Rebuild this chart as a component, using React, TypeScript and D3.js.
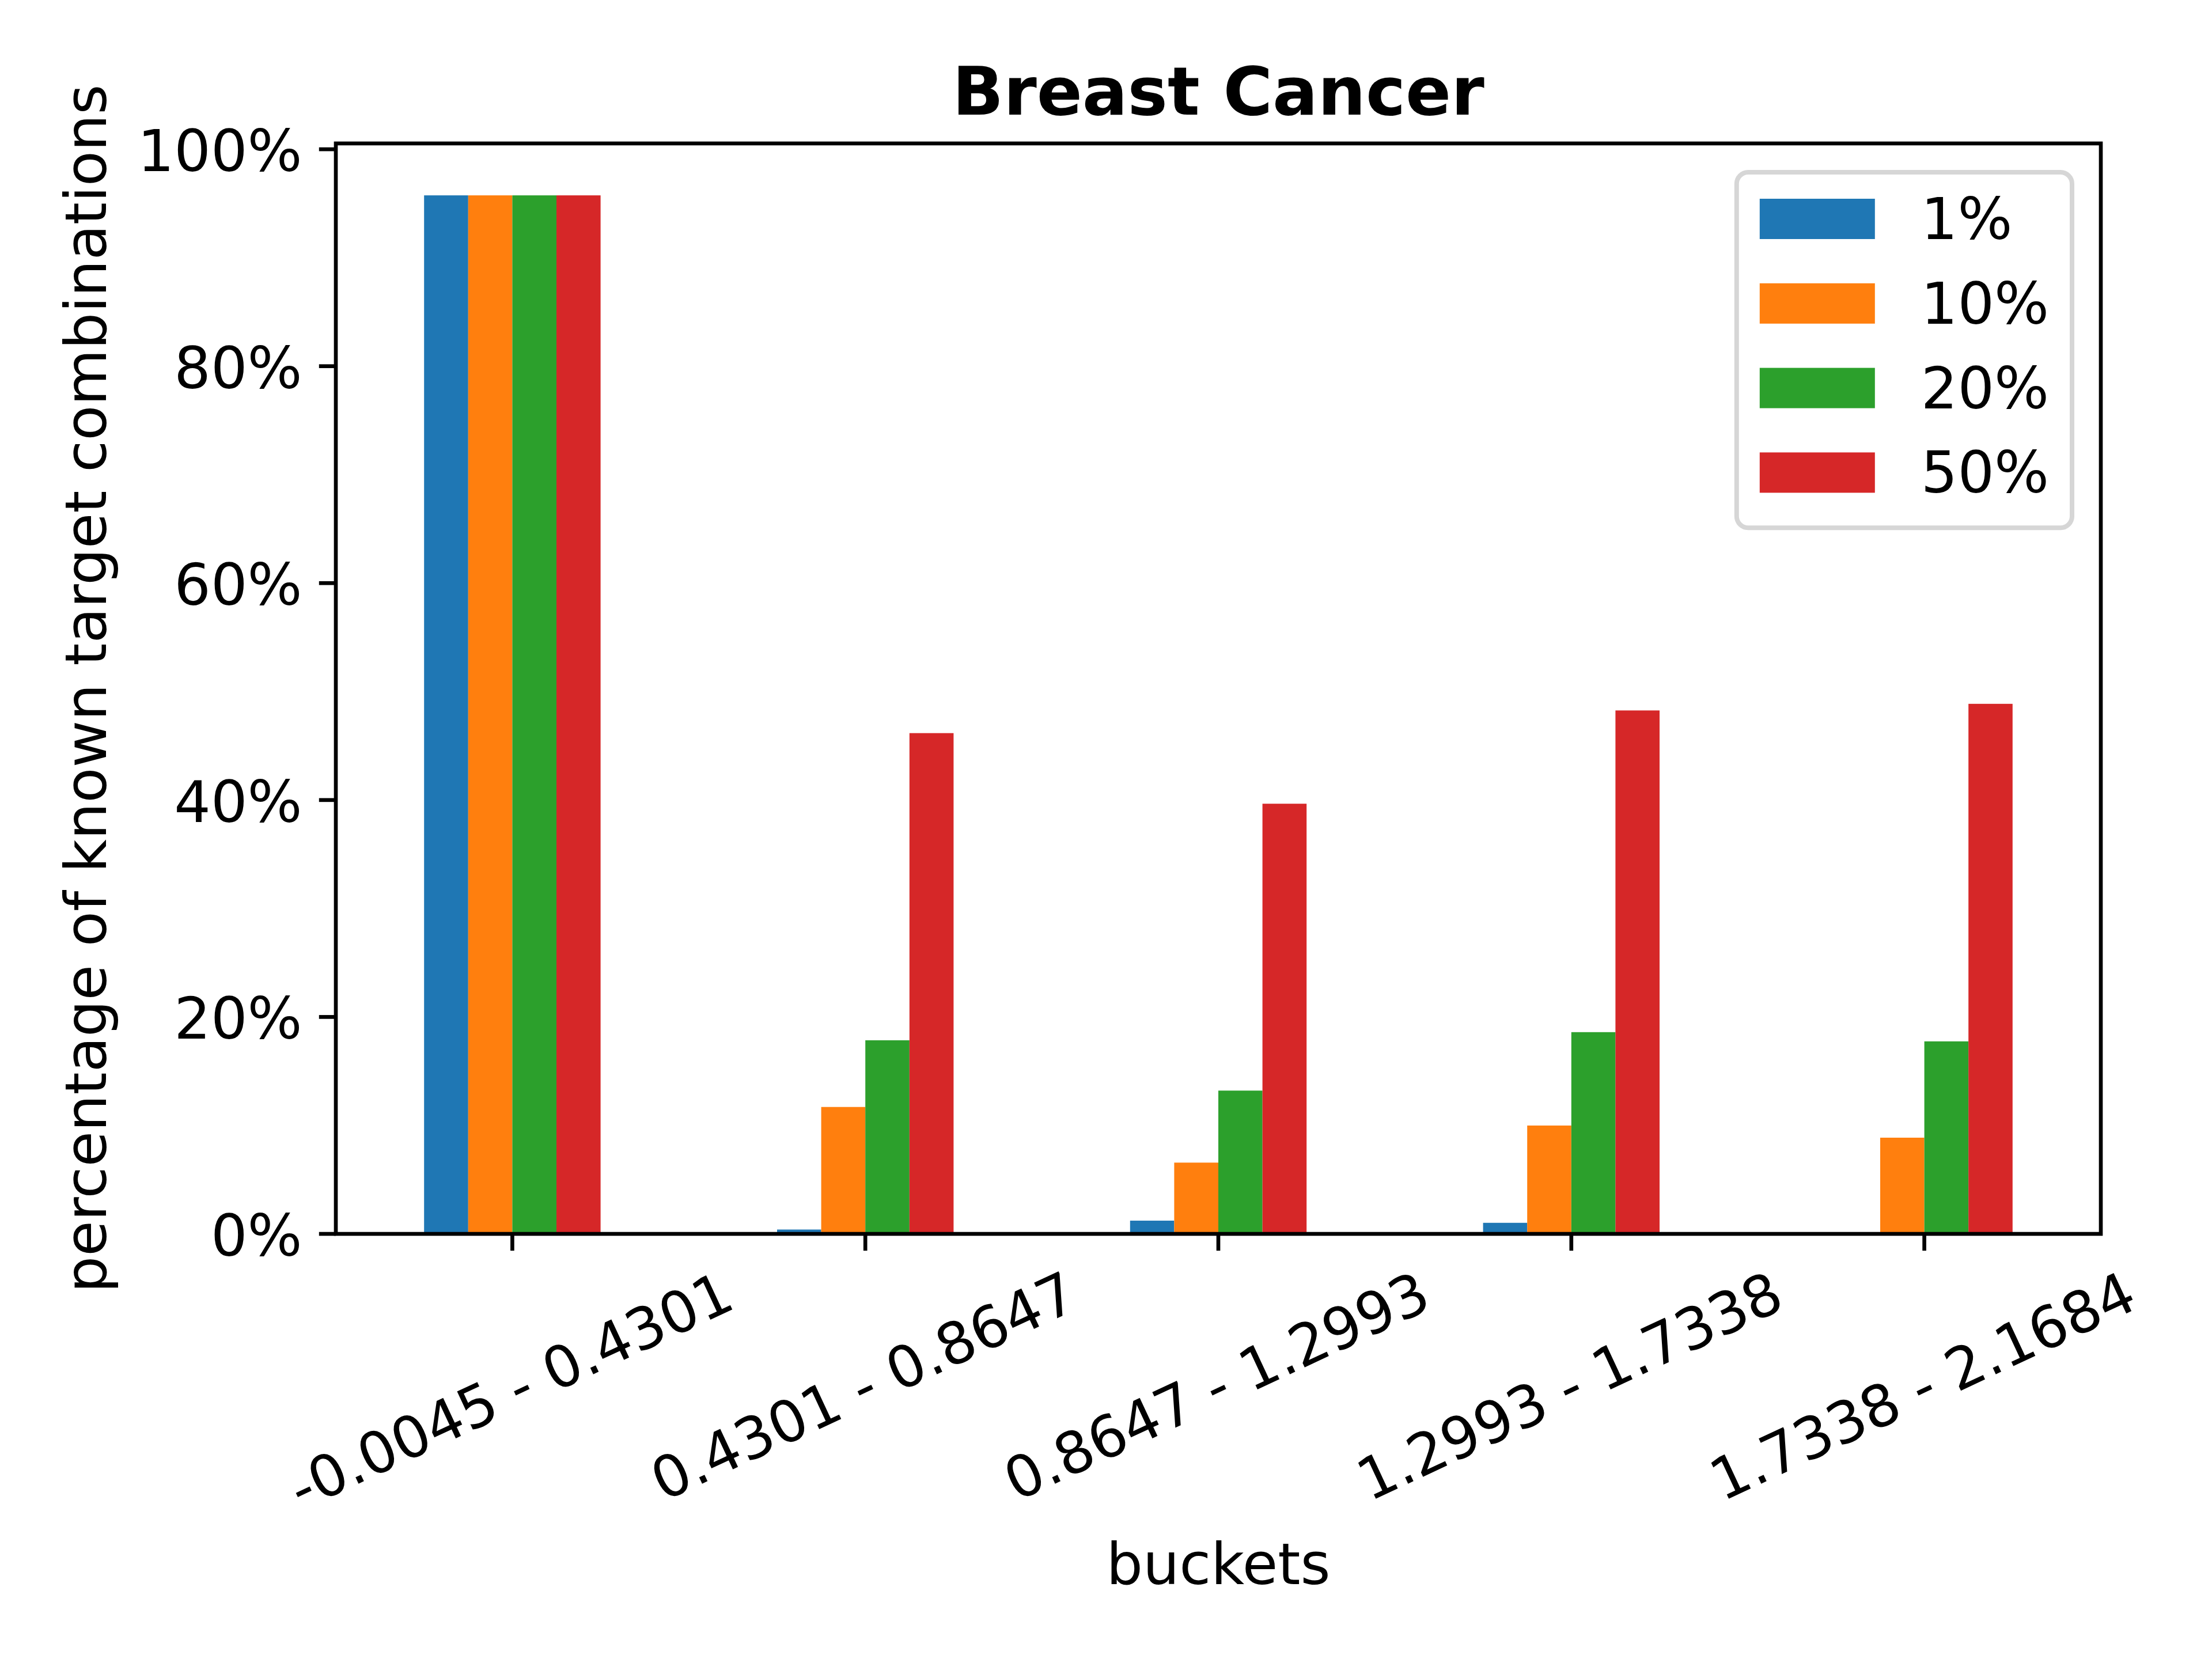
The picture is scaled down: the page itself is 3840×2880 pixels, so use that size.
import React from 'react';
import * as d3 from 'd3';

// values, in percent
const buckets = [
  '-0.0045 - 0.4301',
  '0.4301 - 0.8647',
  '0.8647 - 1.2993',
  '1.2993 - 1.7338',
  '1.7338 - 2.1684',
];
const seriesNames = ['1%', '10%', '20%', '50%'];
const pct1 = [95.75, 0.4, 1.22, 1.02, 0];
const pct10 = [95.75, 11.7, 6.57, 9.99, 8.87];
const pct20 = [95.75, 17.85, 13.21, 18.6, 17.75];
const pct50 = [95.75, 46.17, 39.66, 48.26, 48.87];
const yTicks = [0, 20, 40, 60, 80, 100];

const seriesValues = [pct1, pct10, pct20, pct50];
const colors = ['#1f77b4', '#ff7f0e', '#2ca02c', '#d62728'];

const W = 3840;
const H = 2880;
const FONT = '"DejaVu Sans", sans-serif';
const FS = 100; // 12pt at 600 dpi
const TITLE_FS = 116.7; // 14pt
const LW = 6.67; // 0.8pt
const TICK = 29.2;
const PAD = 29.2;

const margin = { left: 583, right: 3647, top: 249, bottom: 2142 };

// DejaVu Sans advance widths (em) for the glyphs used in labels
const glyphW: Record<string, number> = { '-': 0.361, '.': 0.318, ' ': 0.318, '%': 0.95 };
const textWidth = (s: string) =>
  s.split('').reduce((acc, c) => acc + (glyphW[c] ?? 0.636), 0) * FS;

export default function App() {
  const x = d3
    .scaleBand<string>()
    .domain(buckets)
    .range([margin.left, margin.right])
    .paddingInner(0)
    .paddingOuter(0);

  const xInner = d3
    .scaleBand<string>()
    .domain(seriesNames)
    .range([x.bandwidth() * 0.25, x.bandwidth() * 0.75]);

  const yMax = (d3.max(seriesValues.flat()) as number) * 1.05;
  const y = d3.scaleLinear().domain([0, yMax]).range([margin.bottom, margin.top]);

  const rot = (25 * Math.PI) / 180;
  const lineH = 0.968 * FS;
  const labelTop = margin.bottom + TICK + PAD;
  const boxH = (s: string) => textWidth(s) * Math.sin(rot) + lineH * Math.cos(rot);
  const maxBoxH = d3.max(buckets, boxH) as number;
  const xlabelBase = labelTop + maxBoxH + 33.3 + 0.76 * FS;

  // legend layout (matplotlib defaults, in font-size units)
  const legRight = margin.right - 0.5 * FS;
  const legTop = margin.top + 0.5 * FS;
  const rowPitch = lineH + 0.5 * FS;
  const legW = 0.4 * FS + 2 * FS + 0.8 * FS + (d3.max(seriesNames, textWidth) as number) + 0.4 * FS;
  const legH = 0.8 * FS + seriesNames.length * lineH + (seriesNames.length - 1) * 0.5 * FS;
  const legLeft = legRight - legW;

  return (
    <svg
      width={W}
      height={H}
      style={{ position: 'absolute', left: 0, top: 0, background: '#fff' }}
      fontFamily={FONT}
    >
      <rect x={0} y={0} width={W} height={H} fill="#fff" />

      {/* bars */}
      {seriesValues.map((vals, si) =>
        vals.map((v, bi) => (
          <rect
            key={`${si}-${bi}`}
            x={(x(buckets[bi]) as number) + (xInner(seriesNames[si]) as number)}
            y={y(v)}
            width={xInner.bandwidth()}
            height={y(0) - y(v)}
            fill={colors[si]}
          />
        ))
      )}

      {/* spines */}
      <rect
        x={margin.left}
        y={margin.top}
        width={margin.right - margin.left}
        height={margin.bottom - margin.top}
        fill="none"
        stroke="#000"
        strokeWidth={LW}
        strokeLinejoin="miter"
      />

      {/* y ticks */}
      {yTicks.map((t) => (
        <g key={t}>
          <line
            x1={margin.left - TICK}
            x2={margin.left}
            y1={y(t)}
            y2={y(t)}
            stroke="#000"
            strokeWidth={LW}
          />
          <text
            x={margin.left - TICK - PAD}
            y={y(t) + 0.38 * FS}
            fontSize={FS}
            textAnchor="end"
          >
            {`${t}%`}
          </text>
        </g>
      ))}

      {/* x ticks */}
      {buckets.map((b) => {
        const cx = (x(b) as number) + x.bandwidth() / 2;
        const cy = labelTop + boxH(b) / 2;
        return (
          <g key={b}>
            <line
              x1={cx}
              x2={cx}
              y1={margin.bottom}
              y2={margin.bottom + TICK}
              stroke="#000"
              strokeWidth={LW}
            />
            <text
              transform={`translate(${cx},${cy}) rotate(-25)`}
              x={0}
              y={0.276 * FS}
              fontSize={FS}
              textAnchor="middle"
            >
              {b}
            </text>
          </g>
        );
      })}

      {/* title and axis labels */}
      <text
        x={(margin.left + margin.right) / 2}
        y={margin.top - 50}
        fontSize={TITLE_FS}
        fontWeight="bold"
        textAnchor="middle"
      >
        Breast Cancer
      </text>
      <text
        x={(margin.left + margin.right) / 2}
        y={xlabelBase}
        fontSize={FS}
        textAnchor="middle"
      >
        buckets
      </text>
      <text
        transform={`translate(184,${(margin.top + margin.bottom) / 2}) rotate(-90)`}
        fontSize={FS}
        textAnchor="middle"
      >
        percentage of known target combinations
      </text>

      {/* legend */}
      <rect
        x={legLeft}
        y={legTop}
        width={legW}
        height={legH}
        rx={0.2 * FS}
        ry={0.2 * FS}
        fill="#fff"
        fillOpacity={0.8}
        stroke="#d6d6d6"
        strokeWidth={8}
      />
      {seriesNames.map((name, i) => {
        const base = legTop + 0.4 * FS + i * rowPitch + 0.76 * FS;
        return (
          <g key={name}>
            <rect
              x={legLeft + 0.4 * FS}
              y={base - 0.7 * FS}
              width={2 * FS}
              height={0.7 * FS}
              fill={colors[i]}
            />
            <text x={legLeft + 0.4 * FS + 2.8 * FS} y={base} fontSize={FS}>
              {name}
            </text>
          </g>
        );
      })}
    </svg>
  );
}
